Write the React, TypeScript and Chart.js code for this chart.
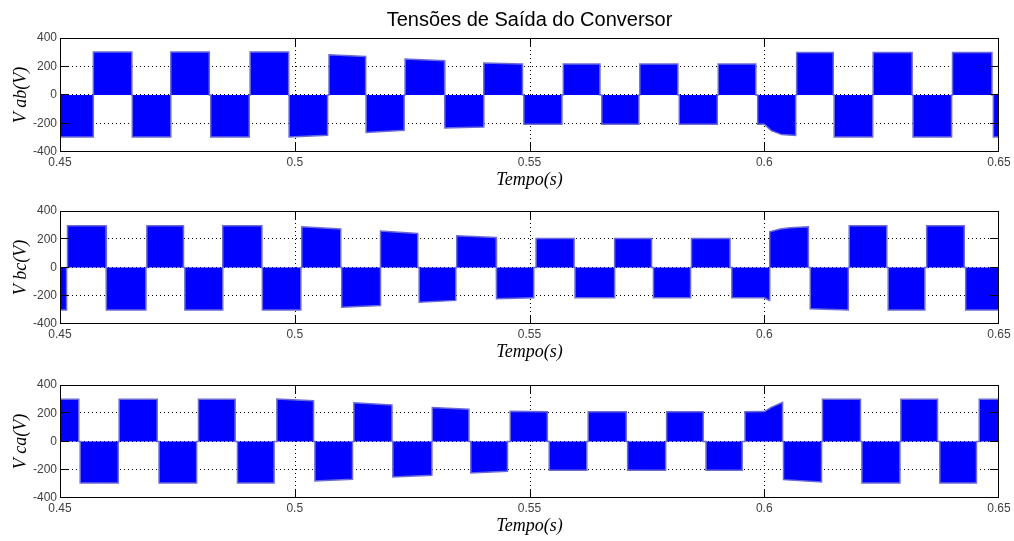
import React, { useEffect, useRef } from 'react';
import { Chart, registerables } from 'chart.js';

Chart.register(...registerables);

// ---- data -----------------------------------------------------------
const timeTicks = [0.45, 0.5, 0.55, 0.6, 0.65];
const voltTicks = [-400, -200, 0, 200, 400];
const timeGrid = [0.5, 0.55, 0.6];
const voltGrid = [-200, 0, 200];

const chartTitle = 'Tensões de Saída do Conversor';
const xTitle = 'Tempo(s)';

// each block: [start time, end time, level at start, level at end, optional inner envelope points]
type Block = [number, number, number, number, Array<[number, number]>?];

const vabBlocks: Block[] = [
  [0.4500, 0.4571, -294, -294],
  [0.4571, 0.4653, 301, 301],
  [0.4654, 0.4736, -294, -294],
  [0.4736, 0.4818, 301, 301],
  [0.4821, 0.4903, -294, -294],
  [0.4905, 0.4987, 301, 301],
  [0.4988, 0.5070, -294, -282],
  [0.5073, 0.5151, 282, 270],
  [0.5152, 0.5233, -263, -247],
  [0.5235, 0.5319, 252, 240],
  [0.5320, 0.5402, -231, -224],
  [0.5403, 0.5485, 224, 217],
  [0.5488, 0.5569, -205, -205],
  [0.5572, 0.5650, 217, 217],
  [0.5654, 0.5733, -205, -205],
  [0.5735, 0.5816, 217, 217],
  [0.5819, 0.5900, -205, -205],
  [0.5902, 0.5982, 217, 217],
  [0.5986, 0.6067, -205, -284, [[0.6000, -205], [0.6015, -250], [0.6037, -278]]],
  [0.6069, 0.6147, 298, 298],
  [0.6149, 0.6231, -294, -294],
  [0.6232, 0.6315, 298, 298],
  [0.6317, 0.6399, -294, -294],
  [0.6401, 0.6485, 298, 298],
  [0.6488, 0.6500, -294, -294],
];

const vbcBlocks: Block[] = [
  [0.4500, 0.4514, -300, -300],
  [0.4516, 0.4598, 295, 295],
  [0.4599, 0.4683, -300, -300],
  [0.4685, 0.4763, 295, 295],
  [0.4766, 0.4846, -300, -300],
  [0.4847, 0.4930, 295, 295],
  [0.4931, 0.5013, -300, -300],
  [0.5015, 0.5098, 288, 272],
  [0.5100, 0.5182, -281, -269],
  [0.5183, 0.5262, 258, 241],
  [0.5265, 0.5343, -246, -233],
  [0.5345, 0.5429, 224, 213],
  [0.5430, 0.5509, -221, -214],
  [0.5514, 0.5595, 206, 206],
  [0.5597, 0.5680, -214, -214],
  [0.5682, 0.5760, 206, 206],
  [0.5764, 0.5843, -214, -214],
  [0.5845, 0.5927, 206, 206],
  [0.5931, 0.6011, -214, -233, [[0.6000, -214]]],
  [0.6012, 0.6094, 253, 288, [[0.6034, 272], [0.6055, 281]]],
  [0.6098, 0.6179, -292, -300],
  [0.6181, 0.6261, 295, 295],
  [0.6264, 0.6342, -300, -300],
  [0.6346, 0.6426, 295, 295],
  [0.6429, 0.6500, -300, -300],
];

const vcaBlocks: Block[] = [
  [0.4500, 0.4540, 300, 300],
  [0.4543, 0.4624, -294, -294],
  [0.4626, 0.4707, 300, 300],
  [0.4711, 0.4791, -294, -294],
  [0.4795, 0.4873, 300, 300],
  [0.4878, 0.4956, -294, -294],
  [0.4962, 0.5040, 300, 288],
  [0.5043, 0.5123, -280, -268],
  [0.5126, 0.5207, 274, 258],
  [0.5209, 0.5292, -251, -239],
  [0.5293, 0.5371, 241, 229],
  [0.5375, 0.5453, -223, -211],
  [0.5459, 0.5538, 214, 210],
  [0.5542, 0.5622, -204, -204],
  [0.5625, 0.5706, 210, 210],
  [0.5709, 0.5790, -204, -204],
  [0.5792, 0.5870, 210, 210],
  [0.5876, 0.5953, -204, -204],
  [0.5959, 0.6039, 210, 277, [[0.6000, 212], [0.6015, 242]]],
  [0.6041, 0.6122, -270, -287],
  [0.6124, 0.6205, 300, 300],
  [0.6208, 0.6289, -294, -294],
  [0.6291, 0.6369, 300, 300],
  [0.6374, 0.6452, -294, -294],
  [0.6458, 0.6500, 300, 300],
];

// ---- layout ---------------------------------------------------------
const W = 1014;
const X_AXIS_H = 42;
const Y_AXIS_W = 60;
const RIGHT_PAD = 15;

type PanelCfg = {
  label: string;
  blocks: Block[];
  canvasTop: number;
  padTop: number;
  plotH: number;
  title?: string;
};

const panels: PanelCfg[] = [
  { label: 'V ab(V)', blocks: vabBlocks, canvasTop: 0, padTop: 0, plotH: 114, title: chartTitle },
  { label: 'V bc(V)', blocks: vbcBlocks, canvasTop: 201, padTop: 10, plotH: 113 },
  { label: 'V ca(V)', blocks: vcaBlocks, canvasTop: 375, padTop: 10, plotH: 113 },
];

function envelope(blocks: Block[]) {
  const pts: { x: number; y: number }[] = [];
  for (const b of blocks) {
    const [t0, t1, v0, v1, inner] = b;
    pts.push({ x: t0, y: 0 }, { x: t0, y: v0 });
    if (inner) for (const [t, v] of inner) pts.push({ x: t, y: v });
    pts.push({ x: t1, y: v1 }, { x: t1, y: 0 });
  }
  return pts;
}

const matlabFrame = {
  id: 'matlabFrame',
  beforeDatasetsDraw(chart: any) {
    const { ctx, chartArea: a, scales } = chart;
    const x = scales.x;
    const y = scales.y;
    ctx.save();
    ctx.strokeStyle = '#000';
    ctx.lineWidth = 1;
    ctx.setLineDash([1, 3]);
    ctx.beginPath();
    for (const t of timeGrid) {
      const px = Math.round(x.getPixelForValue(t)) + 0.5;
      ctx.moveTo(px, a.top);
      ctx.lineTo(px, a.bottom);
    }
    for (const v of voltGrid) {
      const py = Math.round(y.getPixelForValue(v)) - 0.5;
      ctx.moveTo(a.left, py);
      ctx.lineTo(a.right, py);
    }
    ctx.stroke();
    ctx.restore();
  },
  afterDatasetsDraw(chart: any) {
    const { ctx, chartArea: a, scales } = chart;
    const x = scales.x;
    const y = scales.y;
    const tl = 9;
    ctx.save();
    ctx.strokeStyle = '#000';
    ctx.lineWidth = 1;
    ctx.setLineDash([]);
    ctx.beginPath();
    for (const t of timeGrid) {
      const px = Math.round(x.getPixelForValue(t)) + 0.5;
      ctx.moveTo(px, a.top);
      ctx.lineTo(px, a.top + tl);
      ctx.moveTo(px, a.bottom);
      ctx.lineTo(px, a.bottom - tl);
    }
    for (const v of voltGrid) {
      const py = Math.round(y.getPixelForValue(v)) - 0.5;
      ctx.moveTo(a.left, py);
      ctx.lineTo(a.left + tl, py);
      ctx.moveTo(a.right, py);
      ctx.lineTo(a.right - tl, py);
    }
    ctx.stroke();
    ctx.strokeRect(a.left + 0.5, a.top + 0.5, a.right - a.left - 1, a.bottom - a.top - 1);
    ctx.restore();
  },
};

function Panel({ cfg }: { cfg: PanelCfg }) {
  const ref = useRef<HTMLCanvasElement>(null);
  const titleH = cfg.title ? 38 : 0;
  const H = cfg.padTop + titleH + cfg.plotH + X_AXIS_H;

  useEffect(() => {
    if (!ref.current) return;
    const chart = new Chart(ref.current, {
      type: 'line',
      data: {
        datasets: [
          {
            data: envelope(cfg.blocks),
            borderColor: '#6b6bd8',
            borderWidth: 1.5,
            backgroundColor: '#0000ff',
            fill: 'origin',
            pointRadius: 0,
            tension: 0,
          },
        ],
      },
      options: {
        animation: false,
        responsive: false,
        devicePixelRatio: 1,
        events: [],
        layout: { padding: { top: cfg.padTop, left: 0, right: RIGHT_PAD, bottom: 0 } },
        plugins: {
          legend: { display: false },
          tooltip: { enabled: false },
          title: cfg.title
            ? {
                display: true,
                text: cfg.title,
                fullSize: false,
                color: '#000',
                font: { family: 'Liberation Sans, Arial, sans-serif', size: 20, weight: 'normal' },
                padding: { top: 8, bottom: 6 },
              }
            : { display: false },
        },
        scales: {
          x: {
            type: 'linear',
            min: 0.45,
            max: 0.65,
            afterBuildTicks: (s: any) => {
              s.ticks = timeTicks.map((v) => ({ value: v }));
            },
            afterFit: (s: any) => {
              s.height = X_AXIS_H;
              s.paddingLeft = 0;
              s.paddingRight = 0;
            },
            ticks: {
              autoSkip: false,
              maxRotation: 0,
              padding: 3,
              color: '#404040',
              font: { family: 'Liberation Sans, Arial, sans-serif', size: 12 },
              callback: (v: any) => String(Number(v)),
            },
            grid: { display: false, drawTicks: false },
            border: { display: false },
            title: {
              display: true,
              text: xTitle,
              color: '#000',
              font: { family: 'Liberation Serif, serif', style: 'italic', size: 18 },
              padding: { top: 0, bottom: 3 },
            },
          },
          y: {
            type: 'linear',
            min: -400,
            max: 400,
            afterBuildTicks: (s: any) => {
              s.ticks = voltTicks.map((v) => ({ value: v }));
            },
            afterFit: (s: any) => {
              s.width = Y_AXIS_W;
              s.paddingTop = 0;
              s.paddingBottom = 0;
            },
            ticks: {
              padding: 3,
              color: '#404040',
              font: { family: 'Liberation Sans, Arial, sans-serif', size: 12 },
              callback: (v: any) => String(Number(v)),
            },
            grid: { display: false, drawTicks: false },
            border: { display: false },
            title: {
              display: true,
              text: cfg.label,
              color: '#000',
              font: { family: 'Liberation Serif, serif', style: 'italic', size: 18 },
              padding: { top: 10, bottom: 0 },
            },
          },
        },
      },
      plugins: [matlabFrame],
    } as any);
    return () => chart.destroy();
  }, []);

  return (
    <canvas
      ref={ref}
      width={W}
      height={H}
      style={{ position: 'absolute', left: 0, top: cfg.canvasTop, width: W, height: H }}
    />
  );
}

export default function App() {
  return (
    <div style={{ position: 'fixed', left: 0, top: 0, width: W, height: 541, background: '#fff' }}>
      {panels.map((p, i) => (
        <Panel key={i} cfg={p} />
      ))}
    </div>
  );
}
